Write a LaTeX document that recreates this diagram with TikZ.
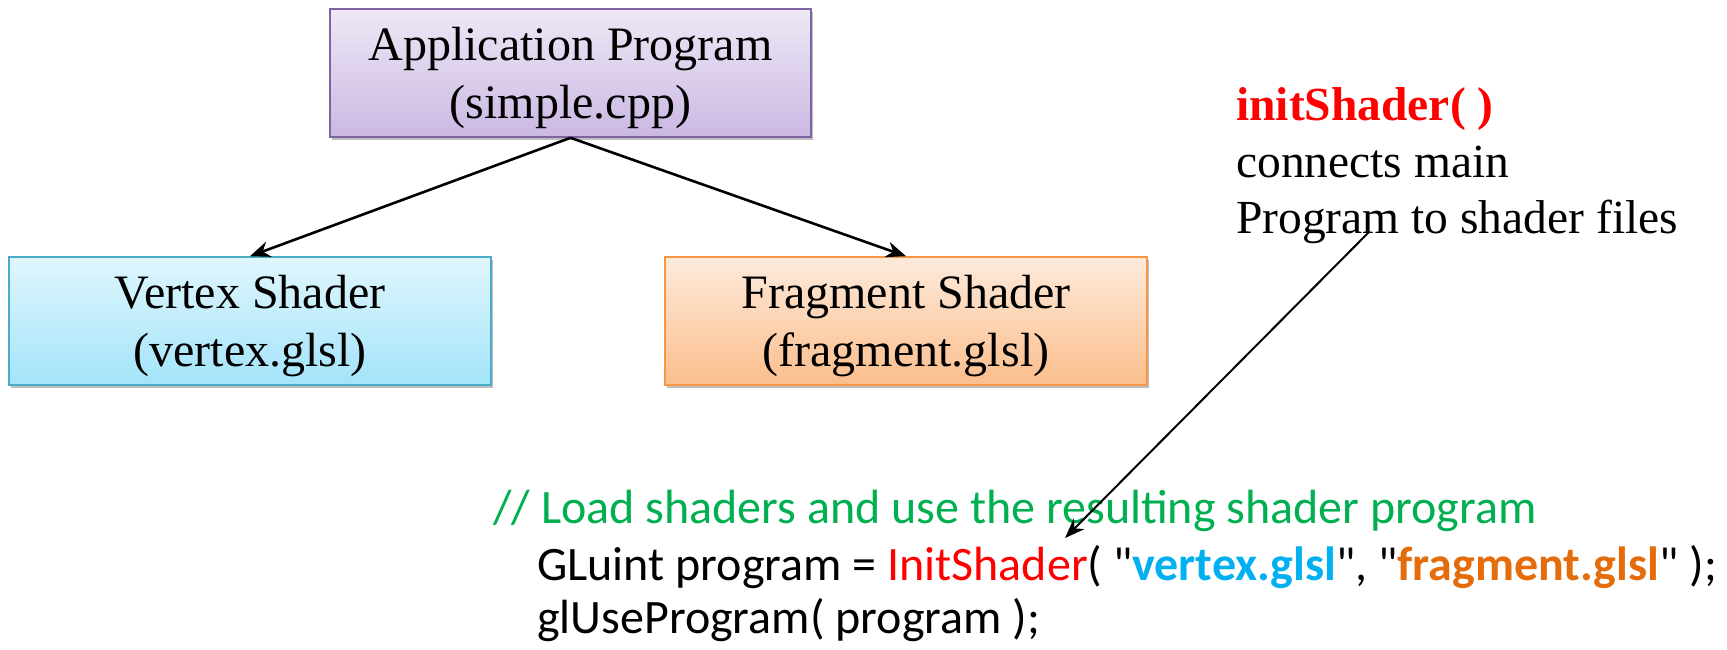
\documentclass[tikz,border=0pt]{standalone}
\usepackage{fontspec}
\setmainfont{Liberation Serif}
\newfontfamily\codefont{Carlito}
\usetikzlibrary{arrows.meta,shadows}
\definecolor{appborder}{HTML}{8064A2}
\definecolor{apptop}{HTML}{EEE8F6}
\definecolor{appbot}{HTML}{CBB8E2}
\definecolor{vxborder}{HTML}{4BACC6}
\definecolor{vxtop}{HTML}{E0F6FD}
\definecolor{vxbot}{HTML}{A3E4FA}
\definecolor{frborder}{HTML}{F79646}
\definecolor{frtop}{HTML}{FDEADB}
\definecolor{frbot}{HTML}{FBBE8C}
\definecolor{cgreen}{HTML}{00B050}
\definecolor{cblue}{HTML}{00B0F0}
\definecolor{corange}{HTML}{E46C0A}
\tikzset{
  boxbase/.style={rectangle, line width=1.6pt, minimum height=128pt, inner sep=0pt,
    align=center, text depth=0pt, font=\fontsize{48}{58}\selectfont,
    drop shadow={shadow xshift=2pt, shadow yshift=-3pt, opacity=0.25, fill=black}},
  appbox/.style={boxbase, draw=appborder, top color=apptop, bottom color=appbot, minimum width=481pt},
  vxbox/.style={boxbase, draw=vxborder, top color=vxtop, bottom color=vxbot, minimum width=482pt},
  frbox/.style={boxbase, draw=frborder, top color=frtop, bottom color=frbot, minimum width=482pt},
  arr/.style={line width=2.6pt, -{Stealth[length=20pt,width=16pt]}},
  thinarr/.style={line width=2pt, -{Stealth[length=20pt,width=15pt]}},
  codetext/.style={anchor=base west, inner sep=0pt, font=\codefont\fontsize{48}{55}\selectfont},
  notetext/.style={anchor=base west, inner sep=0pt, font=\fontsize{47.5}{56.5}\selectfont}
}
\begin{document}
\begin{tikzpicture}[x=1pt,y=-1pt]
\useasboundingbox (0,0) rectangle (1727,649);
\node[appbox] (app) at (570.5,73) {Application Program\\(simple.cpp)};
\node[vxbox] (vertex) at (250,321) {Vertex Shader\\(vertex.glsl)};
\node[frbox] (fragment) at (906,321) {Fragment Shader\\(fragment.glsl)};
\draw[arr] (app.south) -- (vertex.north);
\draw[arr] (app.south) -- (fragment.north);
\node[notetext, text=red] (note1) at (1236,120) {\textbf{initShader( )}};
\node[notetext] (note2) at (1236,177) {connects main};
\node[notetext] (note3) at (1236,233) {Program to shader files};
\node[codetext, text=cgreen] (code1) at (493,523) {// Load shaders and use the resulting shader program};
\node[codetext] (code2) at (537,580) {GLuint program = \textcolor{red}{InitShader}( "\textcolor{cblue}{\textbf{vertex.glsl}}", "\textcolor{corange}{\textbf{fragment.glsl}}" );};
\node[codetext] (code3) at (537,633) {glUseProgram( program );};
\coordinate (notefoot) at (1369,232);
\coordinate (calltip) at (1065,538);
\draw[thinarr] (notefoot) -- (calltip);
\end{tikzpicture}
\end{document}
